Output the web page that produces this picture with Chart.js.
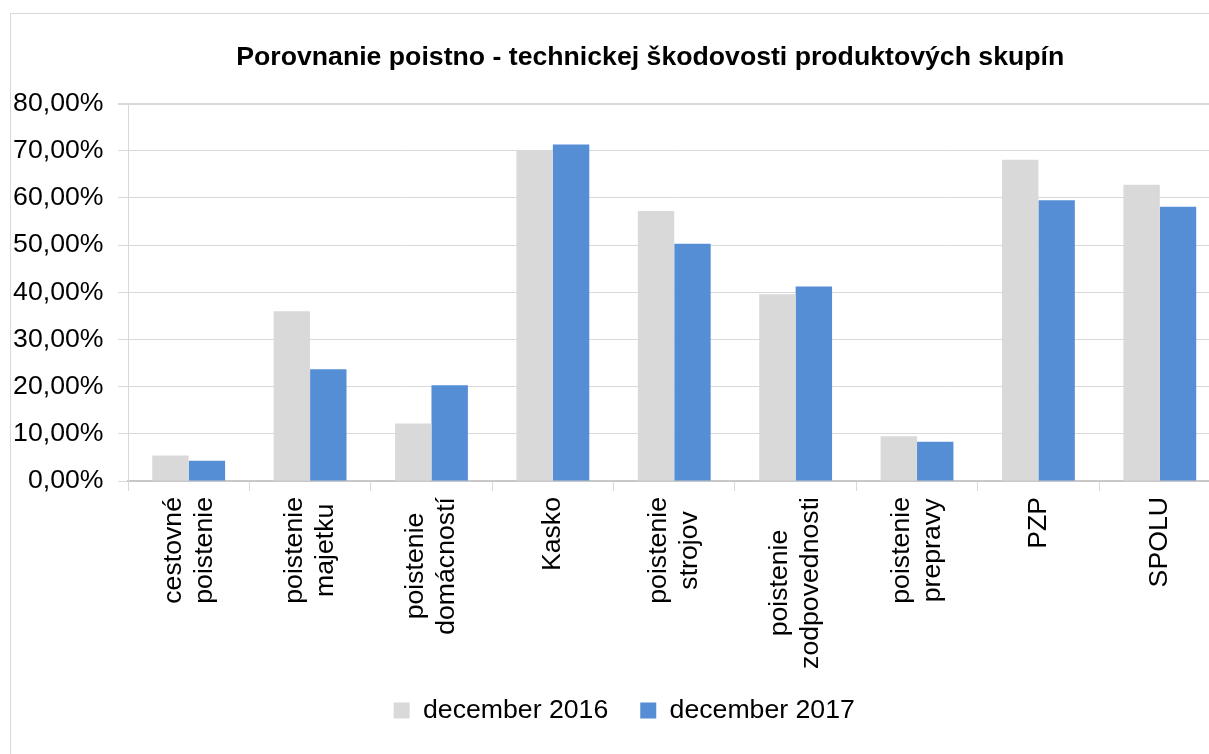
<!DOCTYPE html>
<html>
<head>
<meta charset="utf-8">
<script src="https://cdn.jsdelivr.net/npm/chart.js@4"></script>
<style>
    body { margin: 0; overflow: hidden; background: #fff; }
    #frame { position: absolute; left: 10px; top: 13px; width: 1400px; height: 900px;
             border-left: 1px solid #d9d9d9; border-top: 1px solid #d9d9d9; }
    #chart { position: absolute; left: 0; top: 0; }
</style>
</head>
<body>
<div id="frame"></div>
<canvas id="chart" width="1300" height="754"></canvas>
<script>
// Kategórie a hodnoty (v %)
const categories = [
    ["cestovné", "poistenie"],
    ["poistenie", "majetku"],
    ["poistenie", "domácností"],
    ["Kasko"],
    ["poistenie", "strojov"],
    ["poistenie", "zodpovednosti"],
    ["poistenie", "prepravy"],
    ["PZP"],
    ["SPOLU"]
];
const dec2016 = [5.4, 36.0, 12.2, 70.1, 57.2, 39.6, 9.5, 68.1, 62.8];
const dec2017 = [4.3, 23.7, 20.3, 71.3, 50.3, 41.2, 8.3, 59.5, 58.1];
const seriesNames = ["december 2016", "december 2017"];
const yMax = 80;
const yStep = 10;

const FONT = '"Liberation Sans", Arial, sans-serif';
Chart.defaults.font.family = FONT;
Chart.defaults.font.size = 26.67;
Chart.defaults.color = "#000";

// Excel centers title and legend a bit differently than Chart.js
const nudgeBlocks = {
    id: "nudgeBlocks",
    afterLayout(chart) {
        chart.titleBlock.left += 40;
        chart.titleBlock.right += 40;
        chart.legend.left += 14;
        chart.legend.right += 14;
    }
};

// Rotated category labels, lines centered on each other like in Excel
const categoryLabels = {
    id: "categoryLabels",
    afterDraw(chart) {
        const ctx = chart.ctx;
        const xScale = chart.scales.x;
        const top = xScale.top + 16;
        ctx.save();
        ctx.font = "26.67px " + FONT;
        ctx.fillStyle = "#000";
        ctx.textAlign = "center";
        ctx.textBaseline = "middle";
        categories.forEach((lines, i) => {
            const cx = xScale.getPixelForValue(i);
            const maxW = Math.max(...lines.map(l => ctx.measureText(l).width));
            ctx.save();
            ctx.translate(cx, 0);
            ctx.rotate(-Math.PI / 2);
            lines.forEach((line, j) => {
                const ry = (j - (lines.length - 1) / 2) * 31;
                ctx.fillText(line, -(top + maxW / 2), ry);
            });
            ctx.restore();
        });
        ctx.restore();
    }
};

new Chart(document.getElementById("chart"), {
    type: "bar",
    data: {
        labels: categories,
        datasets: [
            {
                label: seriesNames[0],
                data: dec2016,
                backgroundColor: "#d9d9d9",
                categoryPercentage: 0.6,
                barPercentage: 1.0
            },
            {
                label: seriesNames[1],
                data: dec2017,
                backgroundColor: "#558ed5",
                categoryPercentage: 0.6,
                barPercentage: 1.0
            }
        ]
    },
    options: {
        responsive: false,
        animation: false,
        layout: { padding: { left: 0, right: 79.5, top: 0, bottom: 20.2 } },
        plugins: {
            title: {
                display: true,
                text: "Porovnanie poistno - technickej škodovosti produktových skupín",
                font: { size: 26.67, weight: "bold" },
                color: "#000",
                padding: { top: 42, bottom: 29.5 }
            },
            legend: {
                position: "bottom",
                labels: { boxWidth: 16, boxHeight: 16, padding: 32, font: { size: 26.67 } }
            },
            tooltip: { enabled: false }
        },
        scales: {
            x: {
                ticks: { display: false },
                grid: { drawOnChartArea: false, tickLength: 10, color: "#d9d9d9" },
                border: { color: "#c8c8c8", width: 2 },
                afterFit: scale => { scale.height = 184.1; }
            },
            y: {
                min: 0,
                max: yMax,
                ticks: {
                    stepSize: yStep,
                    padding: 14.5,
                    callback: v => v.toFixed(2).replace(".", ",") + "%"
                },
                grid: {
                    color: "#d9d9d9",
                    tickLength: 10,
                    lineWidth: c => (c.tick && c.tick.value === yMax ? 2 : 1)
                },
                border: { color: "#d9d9d9" },
                afterFit: scale => { scale.width = 128; }
            }
        }
    },
    plugins: [nudgeBlocks, categoryLabels]
});
</script>
</body>
</html>
